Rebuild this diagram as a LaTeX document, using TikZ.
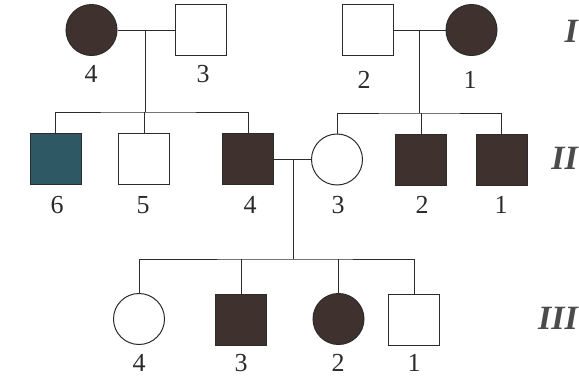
\documentclass[tikz,border=0pt]{standalone}
\usepackage{fontspec}
\setmainfont{Liberation Serif}
\definecolor{ill}{HTML}{3F322E}
\definecolor{illtint}{HTML}{2E5863}
\definecolor{ink}{HTML}{2B2B2B}
\tikzset{
  male/.style={draw=ink,line width=1pt,rectangle,minimum size=51pt,inner sep=0pt,fill=white},
  female/.style={draw=ink,line width=1pt,circle,minimum size=51pt,inner sep=0pt,fill=white},
  sick/.style={fill=ill},
  num/.style={text=ink,font=\fontsize{26}{26}\selectfont,inner sep=0pt},
  gen/.style={text=ink!85,font=\fontsize{34}{34}\selectfont\bfseries\itshape,inner sep=0pt,anchor=east},
  line/.style={draw=ink,line width=1pt}
}
\begin{document}
\begin{tikzpicture}[x=1pt,y=-1pt]
\useasboundingbox (0,0) rectangle (579,378);

%generation I
\node[female,sick] (f4) at (91.5,30) {};
\node[male] (m3) at (200.5,30) {};
\node[male] (m2) at (368,30) {};
\node[female,sick] (f1) at (471.5,30) {};
\node[num] (lf4) at (91,74) {4};
\node[num] (lm3) at (203,74) {3};
\node[num] (lm2) at (364,80) {2};
\node[num] (lf1) at (470,80) {1};

%generation II
\node[male,fill=illtint] (s6) at (55.5,158.5) {};
\node[male] (s5) at (144,158.5) {};
\node[male,sick] (s4) at (248,158.5) {};
\node[female] (d3) at (337,159.5) {};
\node[male,sick] (s2) at (421,159.5) {};
\node[male,sick] (s1) at (501.5,159.5) {};
\node[num] (ls6) at (57,205) {6};
\node[num] (ls5) at (143,205) {5};
\node[num] (ls4) at (250,205) {4};
\node[num] (ld3) at (338,205) {3};
\node[num] (ls2) at (422,205) {2};
\node[num] (ls1) at (501,205) {1};

%generation III
\node[female] (g4) at (139,319) {};
\node[male,sick] (g3) at (241,319.5) {};
\node[female,sick] (g2) at (338.5,319) {};
\node[male] (g1) at (414,319.5) {};
\node[num] (lg4) at (139,363) {4};
\node[num] (lg3) at (241,363) {3};
\node[num] (lg2) at (338,363) {2};
\node[num] (lg1) at (414,363) {1};

%couples and sibships
\coordinate (cL) at (145,30);
\coordinate (bL) at (145,112);
\coordinate (cR) at (419,30);
\coordinate (bR) at (419,113);
\coordinate (cM) at (293,159.5);
\coordinate (bM) at (293,259);

\draw[line] (f4) -- (m3);
\draw[line] (cL) -- (bL);
\draw[line] (s6.north) |- (bL) -| (s4.north);
\draw[line] (s5.north) -- (s5.north |- bL);

\draw[line] (m2) -- (f1);
\draw[line] (cR) -- (bR);
\draw[line] (d3.north) |- (bR) -| (s1.north);
\draw[line] (s2.north) -- (s2.north |- bR);

\draw[line] (s4.east |- cM) -- (d3.west);
\draw[line] (cM) -- (bM);
\draw[line] (g4.north) |- (bM) -| (g1.north);
\draw[line] (g3.north) -- (g3.north |- bM);
\draw[line] (g2.north) -- (g2.north |- bM);

%generation numbers
\node[gen] (gI) at (578,31) {I};
\node[gen] (gII) at (578,158) {II};
\node[gen] (gIII) at (578,318) {III};
\end{tikzpicture}
\end{document}
